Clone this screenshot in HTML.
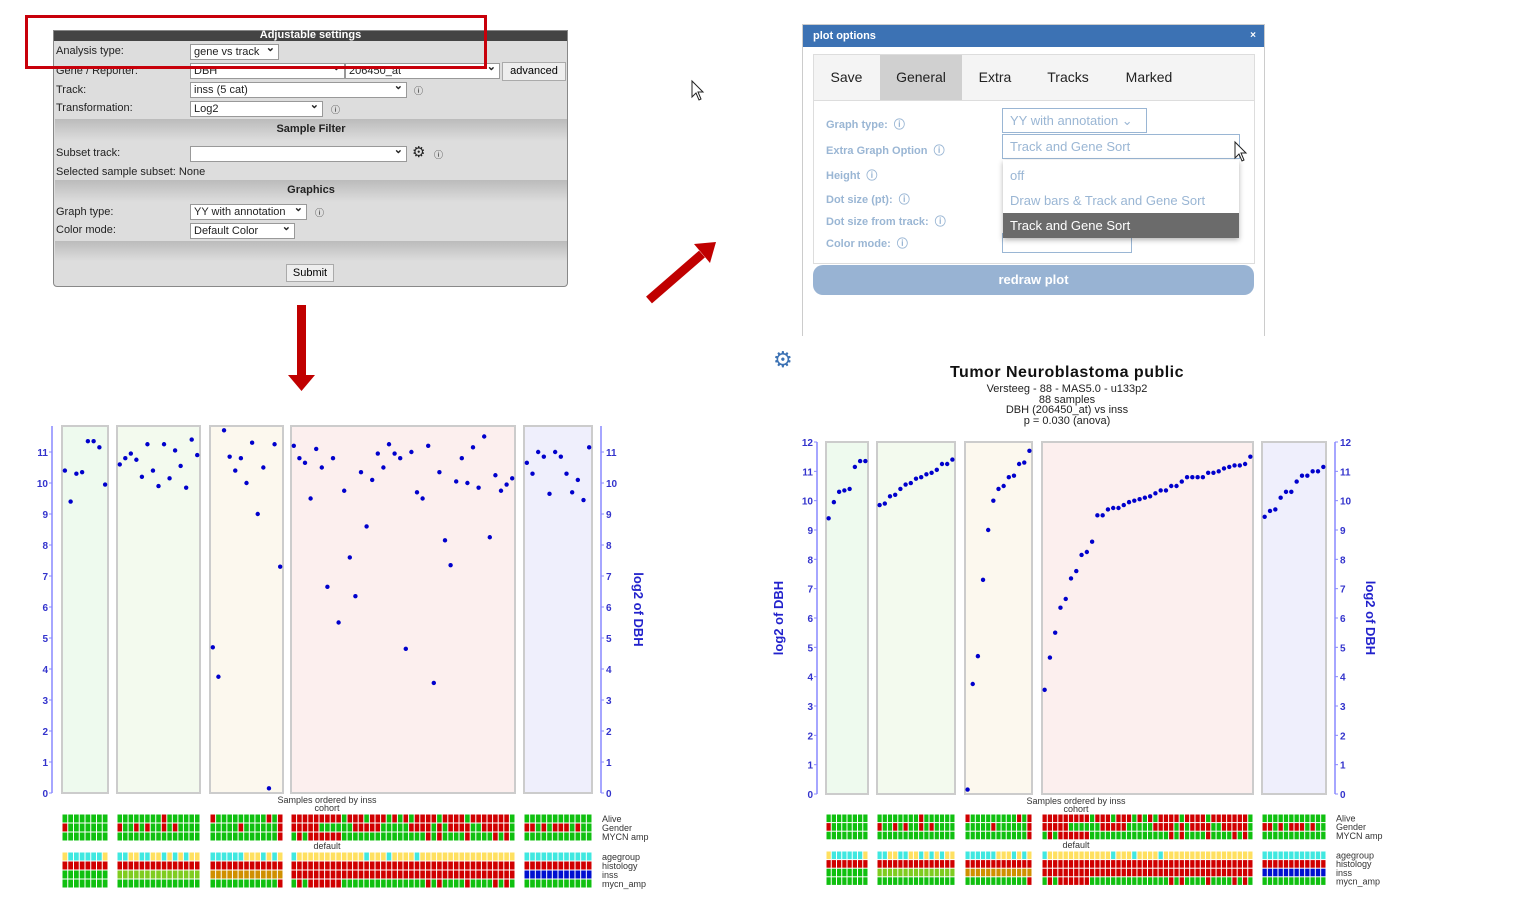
<!DOCTYPE html>
<html><head><meta charset="utf-8">
<style>
body{margin:0;width:1527px;height:918px;background:#fff;position:relative;overflow:hidden;font-family:"Liberation Sans",sans-serif}
.a{position:absolute}
.sel{position:absolute;background:#fff;border:1px solid #999;font-size:11px;height:14px;line-height:14px;padding-left:3px;box-sizing:content-box;color:#222}
.sel:after{content:"⌄";position:absolute;right:3px;top:-4px;font-weight:bold}
.lbl{position:absolute;font-size:11px;color:#222}
.sec{position:absolute;left:1px;width:512px;height:22px;background:linear-gradient(#bbb,#ddd);font-size:11px;font-weight:bold;text-align:center;line-height:20px;color:#222}
.pl{position:absolute;font-size:11px;color:#9ab6d4;font-weight:bold}
.tab{position:absolute;top:0;height:45px;line-height:45px;font-size:14px;color:#222;text-align:center}
</style></head><body>

<div class="a" style="left:53px;top:30px;width:513px;height:255px;background:#ddd;border:1px solid #888;border-radius:0 0 4px 4px">
  <div class="a" style="left:0;top:0;width:513px;height:10px;background:#444;color:#fff;font-size:11px;font-weight:bold;text-align:center;line-height:9px">Adjustable settings</div>
  <div class="lbl" style="left:2px;top:14px">Analysis type:</div>
  <div class="sel" style="left:136px;top:13px;width:84px">gene vs track</div>
  <div class="lbl" style="left:2px;top:34px">Gene / Reporter:</div>
  <div class="sel" style="left:136px;top:32px;width:150px">DBH</div>
  <div class="sel" style="left:291px;top:32px;width:150px">206450_at</div>
  <div class="a" style="left:448px;top:31px;width:62px;height:17px;background:#eee;border:1px solid #aaa;font-size:11px;text-align:center;line-height:17px">advanced</div>
  <div class="lbl" style="left:2px;top:53px">Track:</div>
  <div class="sel" style="left:136px;top:51px;width:212px">inss (5 cat)</div>
  <div class="lbl" style="left:360px;top:53px;font-size:9px">ⓘ</div>
  <div class="lbl" style="left:2px;top:71px">Transformation:</div>
  <div class="sel" style="left:136px;top:70px;width:128px">Log2</div>
  <div class="lbl" style="left:277px;top:72px;font-size:9px">ⓘ</div>
  <div class="sec" style="top:88px">Sample Filter</div>
  <div class="lbl" style="left:2px;top:116px">Subset track:</div>
  <div class="sel" style="left:136px;top:115px;width:212px"></div>
  <div class="lbl" style="left:358px;top:112px;font-size:15px">⚙</div>
  <div class="lbl" style="left:380px;top:117px;font-size:9px">ⓘ</div>
  <div class="lbl" style="left:2px;top:135px">Selected sample subset: None</div>
  <div class="sec" style="top:149px">Graphics</div>
  <div class="lbl" style="left:2px;top:175px">Graph type:</div>
  <div class="sel" style="left:136px;top:173px;width:112px">YY with annotation</div>
  <div class="lbl" style="left:261px;top:175px;font-size:9px">ⓘ</div>
  <div class="lbl" style="left:2px;top:193px">Color mode:</div>
  <div class="sel" style="left:136px;top:192px;width:100px">Default Color</div>
  <div class="a" style="left:1px;top:210px;width:512px;height:20px;background:linear-gradient(#bbb,#ddd)"></div>
  <div class="a" style="left:232px;top:233px;width:46px;height:16px;background:#eee;border:1px solid #aaa;font-size:11px;text-align:center;line-height:16px">Submit</div>
</div>
<div class="a" style="left:25px;top:15px;width:456px;height:48px;border:3px solid #c8000a"></div>

<svg class="a" style="left:0;top:0" width="1527" height="918">
  <rect x="297" y="305" width="9" height="70" fill="#c00000"/>
  <polygon points="288,375 315,375 301.5,391" fill="#c00000"/>
  <line x1="649" y1="300" x2="702" y2="254" stroke="#c00000" stroke-width="9"/>
  <polygon points="694,244 716,242 710,263" fill="#c00000"/>
  <path d="M692,81 L692,97 L696,93 L699,100 L701,99 L698,92 L703,92 Z" fill="#fff" stroke="#222" stroke-width="1"/>
</svg>

<div class="a" style="left:802px;top:24px;width:461px;height:311px;background:#fff;border:1px solid #ccc;border-bottom:none">
  <div class="a" style="left:0;top:0;width:461px;height:22px;background:#3c72b4;color:#fff;font-size:11px;font-weight:bold;line-height:22px;text-indent:10px">plot options<span style="position:absolute;right:8px;font-size:10px">×</span></div>
  <div class="a" style="left:10px;top:29px;width:440px;height:208px;border:1px solid #ddd">
    <div class="a" style="left:0;top:0;width:440px;height:45px;background:#f4f4f4;border-bottom:1px solid #ddd"></div>
    <div class="tab" style="left:0;width:65px">Save</div>
    <div class="tab" style="left:66px;width:82px;background:#d0d0d0">General</div>
    <div class="tab" style="left:150px;width:62px">Extra</div>
    <div class="tab" style="left:218px;width:72px">Tracks</div>
    <div class="tab" style="left:295px;width:80px">Marked</div>
    <div class="pl" style="left:12px;top:61px">Graph type: &nbsp;ⓘ</div>
    <div class="pl" style="left:12px;top:87px">Extra Graph Option &nbsp;ⓘ</div>
    <div class="pl" style="left:12px;top:112px">Height &nbsp;ⓘ</div>
    <div class="pl" style="left:12px;top:136px">Dot size (pt): &nbsp;ⓘ</div>
    <div class="pl" style="left:12px;top:158px">Dot size from track: &nbsp;ⓘ</div>
    <div class="pl" style="left:12px;top:180px">Color mode: &nbsp;ⓘ</div>
    <div class="a" style="left:188px;top:53px;width:143px;height:23px;border:1px solid #9ab6d4;font-size:13px;color:#9ab6d4;line-height:23px;text-indent:7px">YY with annotation ⌄</div>
    <div class="a" style="left:188px;top:79px;width:236px;height:23px;border:1px solid #9ab6d4;font-size:13px;color:#9ab6d4;line-height:23px;text-indent:7px">Track and Gene Sort</div>
    <div class="a" style="left:188px;top:178px;width:128px;height:18px;border:1px solid #9ab6d4"></div>
    <div class="a" style="left:189px;top:105px;width:236px;height:78px;background:#fff;box-shadow:0 2px 5px rgba(0,0,0,.3)">
      <div class="a" style="left:7px;top:8px;font-size:13px;color:#9ab6d4">off</div>
      <div class="a" style="left:7px;top:33px;font-size:13px;color:#9ab6d4">Draw bars &amp; Track and Gene Sort</div>
      <div class="a" style="left:0;top:53px;width:236px;height:25px;background:#6b6b6b;color:#fff;font-size:13px;line-height:25px;text-indent:7px">Track and Gene Sort</div>
    </div>
  </div>
  <div class="a" style="left:10px;top:240px;width:441px;height:30px;background:#98b3d3;border-radius:10px;color:#fff;font-size:13px;font-weight:bold;text-align:center;line-height:30px">redraw plot</div>
</div>
<svg class="a" style="left:1233px;top:140px" width="16" height="24"><path d="M2,2 L2,18 L6,14 L9,21 L11,20 L8,13 L13,13 Z" fill="#fff" stroke="#222"/></svg>

<div class="a" style="left:773px;top:347px;font-size:22px;color:#3c72b4">⚙</div>
<div class="a" style="left:867px;top:364px;width:400px;text-align:center;font-size:16px;letter-spacing:0.5px;font-weight:bold;color:#111">Tumor Neuroblastoma public</div>
<div class="a" style="left:867px;top:384px;width:400px;text-align:center;font-size:11px;line-height:10.5px;color:#222">Versteeg - 88 - MAS5.0 - u133p2<br>88 samples<br>DBH (206450_at) vs inss<br>p = 0.030 (anova)</div>

<svg id="chart" class="a" style="left:0;top:0" width="1527" height="918"></svg>

<script>
// group values (unsorted order, left chart)
const group1 = [10.4, 9.4, 10.3, 10.35, 11.35, 11.35, 11.15, 9.95];
const group2 = [10.6, 10.8, 10.95, 10.75, 10.2, 11.25, 10.4, 9.9, 11.25, 10.15, 11.05, 10.55, 9.85, 11.4, 10.9];
const group3 = [4.7, 3.75, 11.7, 10.85, 10.4, 10.8, 10.0, 11.3, 9.0, 10.5, 0.15, 11.25, 7.3];
const group4 = [11.2, 10.8, 10.65, 9.5, 11.1, 10.5, 6.65, 10.8, 5.5, 9.75, 7.6, 6.35, 10.35, 8.6, 10.1, 10.95, 10.5, 11.25, 10.95, 10.8, 4.65, 11.0, 9.7, 9.5, 11.2, 3.55, 10.35, 8.15, 7.35, 10.05, 10.8, 10.0, 11.15, 9.85, 11.5, 8.25, 10.25, 9.75, 9.95, 10.15];
const group5 = [10.65, 10.3, 11.0, 10.85, 9.65, 11.0, 10.85, 10.3, 9.7, 10.1, 9.45, 11.15];
const groupColors = ["#eefaee", "#f3faee", "#fcf8ee", "#fcefee", "#efeffc"];
const trackNames = ["Alive", "Gender", "MYCN amp", "agegroup", "histology", "inss", "mycn_amp"];
const trackAlive = ["gggggggg","ggggggggrgggggg","rgggggggggrgr","rrrrrrrrrgrrrgrrrgrgrgrrrrgrrrrgrrrrrrrg","gggggggggggg"];
const trackGender = ["rggggggg","rggrgrggrgrgggg","gggggrggggggr","rrrrrggggggrrrrrgggggrrrrgrgrrrrggrrrrrg","rrgrgrrrgrgg"];
const trackMycn = ["gggggggg","ggggggggggggggg","ggggggggggggr","grgrrrrrrgggggggggggggggrgrggggrggggrgrg","gggggggggggg"];
const trackAge = ["yccccccy","ccyyccyycycycyy","ccccccyyycycy","cyyyyyyyyyyyycyyycyyyycyyyyyyyyyyyyyyyyy","cccccccccccc"];
const trackHist = ["rrrrrrrr","rrrrrrrrrrrrrrr","rrrrrrrrrrrrr","rrrrrrrrrrrrrrrrrrrrrrrrrrrrrrrrrrrrrrrr","rrrrrrrrrrrr"];
const trackInss = ["gggggggg","lllllllllllllll","ooooooooooooo","rrrrrrrrrrrrrrrrrrrrrrrrrrrrrrrrrrrrrrrr","bbbbbbbbbbbb"];
const yTicks = [0,1,2,3,4,5,6,7,8,9,10,11,12];

const groups=[group1,group2,group3,group4,group5];
const tracks=[trackAlive,trackGender,trackMycn,trackAge,trackHist,trackInss,trackMycn];
const cmap={g:"#10c010",r:"#d00000",y:"#ffe060",c:"#40e8e0",l:"#80cc20",o:"#d09000",b:"#0010d0"};
const NS="http://www.w3.org/2000/svg";
const svg=document.getElementById('chart');
function mk(t,a,p){const e=document.createElementNS(NS,t);for(const k in a)e.setAttribute(k,a[k]);(p||svg).appendChild(e);return e;}

function drawChart(cfg, sorted){
  const ys=v=>cfg.y0-(v)*(cfg.y0-cfg.y1)/cfg.v1;
  const g=mk('g',{});
  
  
  groups.forEach((vals,gi)=>{
    const [x0,x1]=cfg.gx[gi];
    const bg=mk('rect',{x:x0,y:cfg.top,width:x1-x0,height:cfg.y0-cfg.top,fill:groupColors[gi],stroke:"#ccc","stroke-width":2},g);
    
    
    const v=sorted?vals.slice().sort((a,b)=>a-b):vals;
    const w=(x1-x0)/v.length;
    v.forEach((d,i)=>{
      const c=mk('circle',{cx:x0+w*(i+0.5),cy:ys(d),r:2.2,fill:"#0000cc"},g);
      
      
    });
    tracks.forEach((tr,ti)=>{
      const s=tr[gi];const cw=(x1-x0)/s.length;
      const ty=ti<3?cfg.h1+ti*cfg.rh:cfg.h2+(ti-3)*cfg.rh;
      for(let i=0;i<s.length;i++){
        const r=mk('rect',{x:x0+i*cw+0.5,y:ty+0.5,width:cw-1,height:cfg.rh-1,fill:cmap[s[i]]},g);
        
        
      }
    });
  });
  [cfg.ax,cfg.ax2].forEach((ax,k)=>{
    mk('line',{x1:ax,x2:ax,y1:cfg.top,y2:cfg.y0,stroke:"#8888ff","stroke-width":1.5},g);
    yTicks.filter(t=>t<=cfg.maxT).forEach(t=>{
      mk('line',{x1:ax,x2:ax+(k?3:-3),y1:ys(t),y2:ys(t),stroke:"#8888ff"},g);
      const tx=mk('text',{x:k?ax+5:ax-4,y:ys(t)+4,"font-size":10,"font-weight":"bold",fill:"#3333cc","text-anchor":k?"start":"end","font-family":"Liberation Sans"},g);
      tx.textContent=t;
    });
  });
  cfg.axTitles.forEach(x=>{
    const t=mk('text',{x:x,y:(cfg.top+cfg.y0)/2,"font-size":13,"font-weight":"bold",fill:"#2222cc","text-anchor":"middle","font-family":"Liberation Sans",transform:`rotate(${x>cfg.ax?90:-90} ${x} ${(cfg.top+cfg.y0)/2})`},g);
    t.textContent="log2 of DBH";
    
    
  });
  const cx=(cfg.gx[0][0]+cfg.gx[4][1])/2;
  [["Samples ordered by inss",cfg.y0+10],["cohort",cfg.y0+18],["default",cfg.h2-3]].forEach(([s,y])=>{
    const t=mk('text',{x:cx,y:y,"font-size":9,fill:"#333","text-anchor":"middle","font-family":"Liberation Sans"},g);t.textContent=s;
  });
  trackNames.forEach((n,ti)=>{
    const ty=ti<3?cfg.h1+ti*cfg.rh:cfg.h2+(ti-3)*cfg.rh;
    const t=mk('text',{x:cfg.ax2+1,y:ty+cfg.rh-1,"font-size":9,fill:"#333","font-family":"Liberation Sans"},g);t.textContent=n;
    
    
  });
}
drawChart({name:"unsorted-chart",y0:793,y1:452,v1:11,top:426,maxT:11,ax:52,ax2:601,
  gx:[[62,108],[117,200],[210,283],[291,515],[524,592]],h1:814,h2:852,rh:9,axTitles:[634]},false);
drawChart({name:"sorted-chart",y0:794,y1:442,v1:12,top:442,maxT:12,ax:817,ax2:1335,
  gx:[[826,868],[877,955],[965,1032],[1042,1253],[1262,1326]],h1:814,h2:851,rh:8.6,axTitles:[783,1366]},true);
</script>
</body></html>
